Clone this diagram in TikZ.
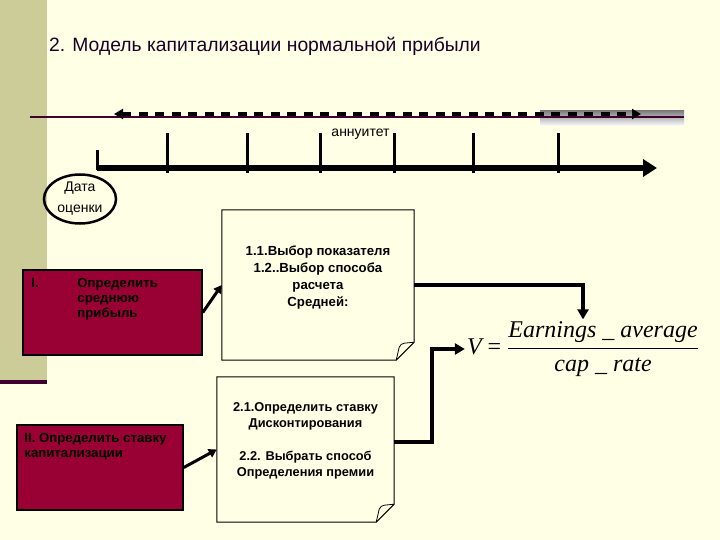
\documentclass[tikz,border=0pt]{standalone}
\usepackage{fontspec}
\setmainfont{Liberation Sans}
\newfontfamily\serifit{Liberation Serif}
\usetikzlibrary{arrows.meta,shapes.geometric}
\definecolor{paper}{RGB}{255,255,229}
\definecolor{khaki}{RGB}{204,204,153}
\definecolor{wine}{RGB}{153,0,51}
\definecolor{plum}{RGB}{64,0,48}
\definecolor{shade}{RGB}{172,170,170}
\definecolor{ink}{RGB}{26,0,38}

\begin{document}
\begin{tikzpicture}[x=1pt, y=-1pt,
		wbox/.style={rectangle, draw, line width=1.5pt, fill=wine, inner sep=0pt},
		boxtext/.style={inner sep=0pt, align=left, font=\fontsize{13.2}{15}\selectfont\bfseries},
		notebox/.style={rectangle, inner sep=0pt},
		notetext/.style={inner sep=0pt, align=center, font=\fontsize{13.2}{17}\selectfont\bfseries},
		link/.style={line width=3pt, -{Triangle[length=8pt, width=9pt]}},
		feed/.style={line width=4pt, -{Triangle[length=10pt, width=11pt]}},
		tick/.style={line width=3pt}]
			\useasboundingbox (0,0) rectangle (720,540);
			\fill[paper] (0,0) rectangle (720,540);
			\fill[khaki] (0,0) rectangle (47,380);
			\fill[plum] (0,380) rectangle (47,384);
			\fill[shade] (540,111) rectangle (684,126);

			\node[anchor=west, inner sep=0pt, text=ink, font=\fontsize{19.3}{22}\selectfont] (title) at (49,46) {2. Модель капитализации нормальной прибыли};

			\coordinate (L0) at (30,117);
			\coordinate (L1) at (684,117);
			\draw[plum, line width=1.2pt] (L0) -- (L1);

			\coordinate (D0) at (114,114);
			\coordinate (D1) at (641,114);
			\draw[line width=4.5pt, dash pattern=on 9pt off 7.5pt, {Triangle[length=9pt, width=10pt]}-{Triangle[length=9pt, width=10pt]}] (D0) -- (D1);

			\coordinate (T0) at (97,168);
			\coordinate (T1) at (657,168);
			\draw[line width=6pt, -{Triangle[length=14pt, width=17pt]}] (T0) -- (T1);
			\draw[tick] (97,150) -- (97,170);
			\draw[tick] (167,133) -- (167,173);
			\draw[tick] (247,133) -- (247,173);
			\draw[tick] (320,133) -- (320,173);
			\draw[tick] (394,133) -- (394,173);
			\draw[tick] (473,133) -- (473,173);
			\draw[tick] (558,133) -- (558,173);

			\node[inner sep=1pt, font=\fontsize{14}{16}\selectfont] (annuity) at (360.5,134) {аннуитет};

			\node[ellipse, draw, line width=2.5pt, minimum width=72pt, minimum height=49pt, inner sep=0pt, align=center, font=\fontsize{14}{21}\selectfont] (date) at (80,199) {Дата\\оценки};

			\node[wbox, minimum width=179pt, minimum height=85pt] (avg) at (112.5,312.5) {};
			\node[boxtext, anchor=north west] (avgnum) at ([xshift=9pt, yshift=-9pt]avg.north west) {I.};
			\node[boxtext, anchor=north west] (avgtext) at ([xshift=55pt, yshift=-9pt]avg.north west) {Определить\\среднюю\\прибыль};

			\node[wbox, minimum width=166pt, minimum height=85pt] (rate) at (100,467.5) {};
			\node[boxtext, anchor=north west] (ratetext) at ([xshift=8pt, yshift=-9pt]rate.north west) {II. Определить ставку\\капитализации};

			\node[notebox, minimum width=192pt, minimum height=150pt] (choice) at (318,285) {};
			\draw[line width=1pt, fill=paper] (choice.north west) -- (choice.north east) -- ([yshift=18pt]choice.south east) -- ([xshift=-18pt]choice.south east) -- (choice.south west) -- cycle;
			\draw[line width=0.8pt] ([xshift=-18pt]choice.south east) -- ([xshift=-15pt, yshift=13pt]choice.south east) to[bend left=30] ([xshift=-10pt, yshift=17pt]choice.south east) -- ([yshift=18pt]choice.south east);
			\node[notetext, anchor=north] (choicetext) at ([yshift=-36pt]choice.north) {1.1.Выбор показателя\\1.2..Выбор способа\\расчета\\Средней:};

			\node[notebox, minimum width=177pt, minimum height=145pt] (discount) at (305.5,449.5) {};
			\draw[line width=1pt, fill=paper] (discount.north west) -- (discount.north east) -- ([yshift=18pt]discount.south east) -- ([xshift=-18pt]discount.south east) -- (discount.south west) -- cycle;
			\draw[line width=0.8pt] ([xshift=-18pt]discount.south east) -- ([xshift=-15pt, yshift=13pt]discount.south east) to[bend left=30] ([xshift=-10pt, yshift=17pt]discount.south east) -- ([yshift=18pt]discount.south east);
			\node[notetext, anchor=north, font=\fontsize{12.8}{16}\selectfont\bfseries] (discounttext) at ([yshift=-26pt]discount.north) {2.1.Определить ставку\\Дисконтирования\\[17pt]2.2. Выбрать способ\\Определения премии};

			\node[inner sep=2pt, font=\fontsize{24}{28}\selectfont\serifit] (value) at (583,349) {\itshape V\upshape{} = $\displaystyle\frac{\hbox{\itshape Earnings \_ average}}{\hbox{\itshape cap \_ rate}}$};

			\draw[link] (avg.east) -- (choice.west);
			\draw[link] (rate.east) -- (discount.west);
			\draw[feed] (choice.east) -| (value.north);
			\draw[feed] ([yshift=8pt]discount.east) -- ++(38,0) |- (value.west);
		\end{tikzpicture}
\end{document}
